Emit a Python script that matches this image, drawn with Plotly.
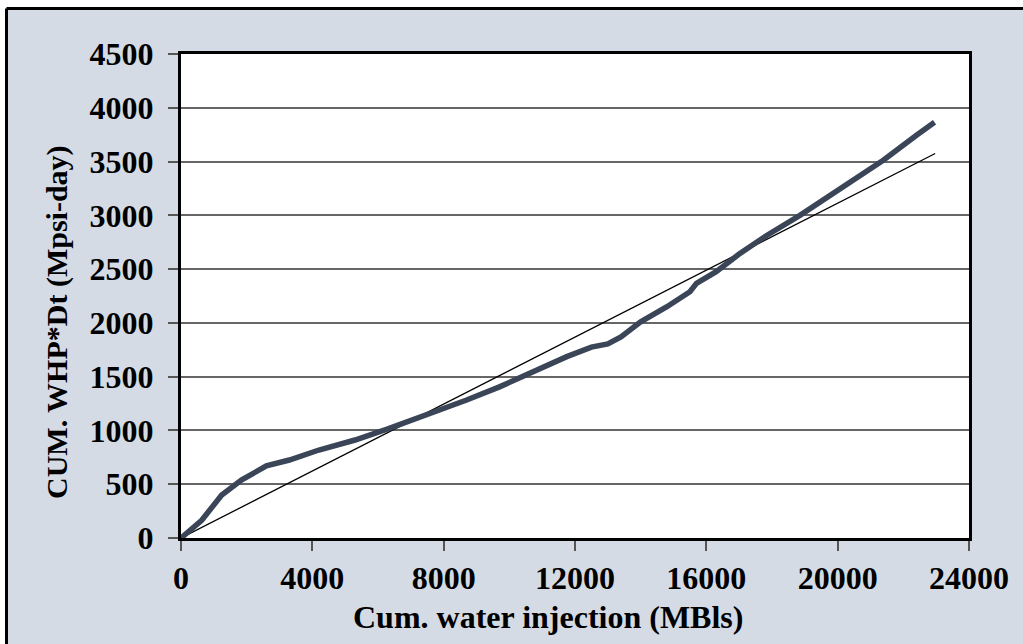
import plotly.graph_objects as go

# Cumulative water injection (MBls) vs cumulative WHP*Dt (Mpsi-day)
cum_injection = [0, 630, 1240, 1850, 2600, 3300, 4200, 5300, 6300, 7000, 7700,
                 8700, 9700, 10700, 11750, 12500, 13000, 13400, 14000, 14800,
                 15500, 15700, 16300, 17000, 17850, 18850, 19400, 20400, 21400,
                 22400, 22950]
cum_whp_dt = [0, 165, 400, 540, 670, 725, 818, 911, 1015, 1090, 1174,
              1283, 1405, 1545, 1686, 1775, 1805, 1870, 2010, 2150,
              2290, 2368, 2476, 2640, 2815, 3000, 3112, 3313, 3514,
              3745, 3865]

# Straight reference line
trend_x = [0, 22970]
trend_y = [0, 3575]

x_ticks = [0, 4000, 8000, 12000, 16000, 20000, 24000]
y_ticks = [0, 500, 1000, 1500, 2000, 2500, 3000, 3500, 4000, 4500]

FONT = "Liberation Serif"
BG = "#D5DBE5"

fig = go.Figure()
fig.add_trace(go.Scatter(x=trend_x, y=trend_y, mode="lines",
                         line=dict(color="black", width=1.3),
                         showlegend=False, hoverinfo="skip"))
fig.add_trace(go.Scatter(x=cum_injection, y=cum_whp_dt, mode="lines",
                         line=dict(color="#3A4558", width=5.5),
                         showlegend=False))

axis_common = dict(
    showline=True, linecolor="black", linewidth=3, mirror=True,
    ticks="outside", ticklen=10, tickwidth=1.5, tickcolor="#555555",
    tickfont=dict(family=FONT, size=32, color="black", weight="bold"),
    zeroline=False,
)

fig.update_xaxes(range=[0, 24000], tickvals=x_ticks,
                 ticktext=[str(v) for v in x_ticks],
                 showgrid=False, **axis_common)
fig.update_yaxes(range=[0, 4500], tickvals=y_ticks,
                 ticktext=[str(v) for v in y_ticks],
                 showgrid=True, gridcolor="#666666", gridwidth=1.5,
                 ticklabelstandoff=8, **axis_common)

# Plot area spans px 181..969 horizontally and 54..538 vertically
PW, PH = 788.0, 484.0
def px_x(p):
    return (p - 181) / PW
def px_y(p):
    return (538 - p) / PH

shapes = [
    # white margin above and left of the chart frame
    dict(type="rect", xref="paper", yref="paper", x0=px_x(-20), x1=px_x(1050),
         y0=px_y(8.5), y1=px_y(-20), fillcolor="white", line=dict(width=0)),
    dict(type="rect", xref="paper", yref="paper", x0=px_x(-20), x1=px_x(6.5),
         y0=px_y(670), y1=px_y(-20), fillcolor="white", line=dict(width=0)),
    # frame lines
    dict(type="line", xref="paper", yref="paper", x0=px_x(6.5), x1=px_x(6.5),
         y0=px_y(8.5), y1=px_y(670), line=dict(color="black", width=3)),
    dict(type="line", xref="paper", yref="paper", x0=px_x(6.5), x1=px_x(1050),
         y0=px_y(8.5), y1=px_y(8.5), line=dict(color="black", width=3)),
]

annotations = [
    dict(text="Cum. water injection (MBls)", xref="paper", yref="paper",
         x=px_x(548), y=px_y(617), xanchor="center", yanchor="middle",
         showarrow=False,
         font=dict(family=FONT, size=32, color="black", weight="bold")),
    dict(text="CUM. WHP*Dt (Mpsi-day)", xref="paper", yref="paper",
         x=px_x(57), y=px_y(322), xanchor="center", yanchor="middle",
         textangle=-90, showarrow=False,
         font=dict(family=FONT, size=30, color="black", weight="bold")),
]

fig.update_layout(
    width=1023, height=644,
    margin=dict(l=181, r=54, t=54, b=106),
    paper_bgcolor=BG, plot_bgcolor="white",
    shapes=shapes, annotations=annotations,
    font=dict(family=FONT),
)

fig.write_html("out.html")
